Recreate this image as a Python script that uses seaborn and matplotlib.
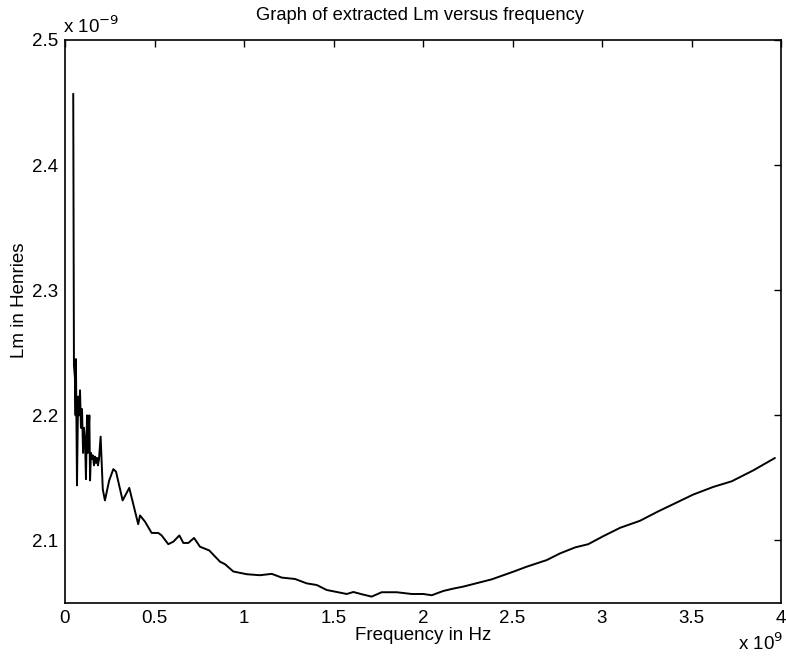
import matplotlib
matplotlib.use("Agg")
import matplotlib.pyplot as plt
import seaborn as sns
import pandas as pd

# Frequency in GHz (plotted with an x 10^9 multiplier) and Lm in nH (x 10^-9)
freq_ghz = [0.046, 0.050, 0.056, 0.059, 0.061, 0.067, 0.073, 0.078, 0.084, 0.089,
            0.095, 0.101, 0.106, 0.112, 0.117, 0.123, 0.128, 0.136, 0.140, 0.145,
            0.151, 0.156, 0.162, 0.168, 0.173, 0.179, 0.184, 0.190, 0.199, 0.211,
            0.223, 0.247, 0.270, 0.285, 0.322, 0.359, 0.409, 0.419, 0.447, 0.484,
            0.521, 0.540, 0.577, 0.605, 0.639, 0.661, 0.689, 0.721, 0.754, 0.806,
            0.866, 0.894, 0.940, 1.015, 1.089, 1.155, 1.211, 1.285, 1.350, 1.406,
            1.462, 1.536, 1.574, 1.611, 1.658, 1.713, 1.769, 1.853, 1.937, 2.002,
            2.049, 2.113, 2.169, 2.225, 2.318, 2.384, 2.504, 2.579, 2.691, 2.765,
            2.849, 2.923, 3.007, 3.101, 3.212, 3.315, 3.417, 3.510, 3.622, 3.725,
            3.845, 3.966]
lm_nh = [2.457, 2.240, 2.229, 2.200, 2.245, 2.144, 2.215, 2.200, 2.220, 2.190,
         2.205, 2.170, 2.190, 2.180, 2.149, 2.200, 2.170, 2.200, 2.148, 2.170,
         2.165, 2.168, 2.160, 2.167, 2.162, 2.166, 2.160, 2.165, 2.183, 2.141,
         2.132, 2.148, 2.157, 2.155, 2.132, 2.142, 2.113, 2.120, 2.115, 2.106,
         2.106, 2.104, 2.097, 2.099, 2.104, 2.098, 2.098, 2.102, 2.095, 2.092,
         2.083, 2.081, 2.0752, 2.073, 2.0722, 2.0733, 2.0703, 2.0692, 2.0657, 2.0644,
         2.0604, 2.0583, 2.0572, 2.0588, 2.057, 2.0551, 2.0586, 2.0586, 2.0572, 2.0572,
         2.0562, 2.0596, 2.0615, 2.0631, 2.0665, 2.0689, 2.075, 2.079, 2.0843, 2.0896,
         2.0944, 2.097, 2.1034, 2.1101, 2.1157, 2.1233, 2.1303, 2.1367, 2.1428, 2.1473,
         2.156, 2.1659]

x_ticks = [0, 0.5, 1, 1.5, 2, 2.5, 3, 3.5, 4]
x_tick_labels = ["0", "0.5", "1", "1.5", "2", "2.5", "3", "3.5", "4"]
y_ticks = [2.1, 2.2, 2.3, 2.4, 2.5]
y_tick_labels = ["2.1", "2.2", "2.3", "2.4", "2.5"]

title = "Graph of extracted Lm versus frequency"
xlabel = "Frequency in Hz"
ylabel = "Lm in Henries"

df = pd.DataFrame({"f": freq_ghz, "L": lm_nh})

sns.set_style("white")
plt.rcParams["font.family"] = ["Liberation Sans", "DejaVu Sans"]
plt.rcParams["text.color"] = "black"

W, H = 786, 658
fig = plt.figure(figsize=(W / 100, H / 100), dpi=100)
ax = fig.add_axes([65 / W, 1 - 603 / H, (781 - 65) / W, (603 - 40) / H])

sns.lineplot(data=df, x="f", y="L", ax=ax, color="black", linewidth=1.4,
             estimator=None, sort=False)

ax.set_xlim(0, 4)
ax.set_ylim(2.05, 2.5)
ax.set_xticks(x_ticks)
ax.set_xticklabels(x_tick_labels)
ax.set_yticks(y_ticks)
ax.set_yticklabels(y_tick_labels)
ax.tick_params(direction="in", length=5, width=1, top=True, right=True,
               labelsize=13.5, colors="black", pad=5)
for s in ax.spines.values():
    s.set_visible(True)
    s.set_color("black")
    s.set_linewidth(1.2)

ax.set_xlabel("")
ax.set_ylabel("")
fig.text(423 / W, 1 - 636 / H, xlabel, ha="center", va="center", fontsize=13.5, color="black")
fig.text(20 / W, 1 - 300 / H, ylabel, ha="center", va="center", fontsize=13.5,
         rotation=90, color="black")
fig.text(420 / W, 1 - 15 / H, title, ha="center", va="center", fontsize=13.2, color="black")
fig.text(63 / W, 1 - 26 / H, r"x 10$^{-9}$", ha="left", va="center", fontsize=13.5, color="black")
fig.text(783 / W, 1 - 643 / H, r"x 10$^{9}$", ha="right", va="center", fontsize=13.5, color="black")

fig.savefig("out.png", dpi=100, facecolor="white")
